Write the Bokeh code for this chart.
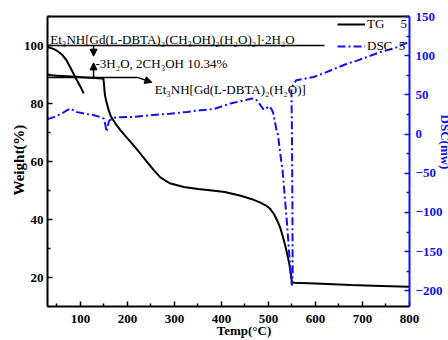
import math
from bokeh.plotting import figure
from bokeh.models import (Range1d, LinearAxis, FixedTicker, Label, Arrow, NormalHead,
                          Legend, LegendItem, Title)
from bokeh.embed import file_html
from bokeh.resources import INLINE

# ---------------- data ----------------
tg_temp = [30, 50, 70, 90, 110, 130, 145, 149, 150.5, 152, 155, 160, 165, 175, 185, 200, 215,
           228, 242, 256, 270, 290, 320, 350, 380, 407, 441, 465, 483, 495, 504, 512, 519, 525,
           529, 535, 540, 544, 547, 549, 550, 555, 600, 675, 740, 800]
tg_wt = [89.8, 89.6, 89.4, 89.2, 89.0, 88.8, 88.6, 88.5, 86.0, 83.0, 80.8, 77.8, 75.5, 73.0,
         70.8, 68.0, 65.2, 62.6, 59.8, 57.0, 54.5, 52.5, 51.2, 50.5, 50.0, 49.5, 48.2, 47.0,
         45.8, 44.8, 43.6, 41.8, 39.5, 37.2, 35.0, 31.5, 28.0, 25.0, 22.0, 19.5, 18.4, 18.2,
         17.9, 17.4, 17.1, 16.8]

aux_temp = [30, 40, 50, 60, 70, 80, 90, 100, 107]
aux_wt = [99.4, 99.0, 98.2, 97.0, 95.0, 92.0, 88.8, 85.8, 83.5]

dsc_temp = [30, 45, 60, 72, 79, 86, 93, 110, 129, 146, 150, 153, 155.5, 158, 161, 168, 175,
            213, 249, 290, 327, 355, 384, 419, 445, 465, 472, 477, 484, 490, 495, 501, 505,
            508, 510, 514, 517, 520, 526, 530, 535, 540, 545, 548, 550, 551.5, 551, 550, 549,
            548.5, 552, 559, 596, 619, 667, 690, 738, 770, 800]
dsc_val = [19, 22, 26, 30.5, 32.5, 30, 28, 26, 24, 21, 19.5, 12, 3, 10, 17, 20, 21.2, 22, 24,
           26, 28.3, 30.4, 32, 39, 42.5, 45.3, 45, 42, 36, 31, 32.5, 35.5, 33, 30, 27, 15, 5,
           0, -29, -46, -82, -118, -160, -185, -193, -180, -100, 0, 50, 58, 62, 68.6, 72.8,
           78, 89.8, 94, 104.6, 110, 118]

x_ticks = [100, 200, 300, 400, 500, 600, 700, 800]
x_minor = [50, 150, 250, 350, 450, 550, 650, 750]
wt_ticks = [20, 40, 60, 80, 100]
wt_minor = [10, 30, 50, 70, 90, 110]
dsc_ticks = [-200, -150, -100, -50, 0, 50, 100, 150]
dsc_minor = [-225, -175, -125, -75, -25, 25, 75, 125]

formula_full = "Et\u2083NH[Gd(L-DBTA)\u2082(CH\u2083OH)\u2082(H\u2082O)\u2082]\u00b72H\u2082O"
formula_loss = "-3H\u2082O, 2CH\u2083OH 10.34%"
formula_rest = "Et\u2083NH[Gd(L-DBTA)\u2082(H\u2082O)]"

NB = "\u00a0"
BLUE = "#1010f0"
SERIF = "Liberation Serif"

p = figure(width=448, height=340, output_backend="svg", toolbar_location=None,
           x_range=Range1d(30, 800), y_range=Range1d(10, 110),
           min_border_left=47, min_border_right=39, min_border_top=16, min_border_bottom=33)
p.grid.visible = False
p.outline_line_color = None
p.background_fill_color = "white"
p.extra_y_ranges = {"dsc": Range1d(-220, 150)}

def style_axis(ax, color, standoff):
    ax.axis_line_width = 2
    ax.axis_line_color = color
    ax.major_tick_line_color = color
    ax.minor_tick_line_color = color
    ax.major_tick_line_width = 1.5
    ax.minor_tick_line_width = 1.5
    ax.major_tick_in = 5
    ax.major_tick_out = 0
    ax.minor_tick_in = 3
    ax.minor_tick_out = 0
    ax.major_label_text_font = SERIF
    ax.major_label_text_font_style = "bold"
    ax.major_label_text_font_size = "13px"
    ax.major_label_text_color = color
    ax.major_label_standoff = standoff

xa = p.xaxis[0]
xa.ticker = FixedTicker(ticks=x_ticks, minor_ticks=x_minor)
style_axis(xa, "black", 8)
ya = p.yaxis[0]
ya.ticker = FixedTicker(ticks=wt_ticks, minor_ticks=wt_minor)
style_axis(ya, "black", 4)

ra = LinearAxis(y_range_name="dsc", ticker=FixedTicker(ticks=dsc_ticks, minor_ticks=dsc_minor))
style_axis(ra, BLUE, 6)
p.add_layout(ra, "right")

ta = LinearAxis(ticker=FixedTicker(ticks=[]), major_label_text_font_size="0px",
                major_tick_in=0, major_tick_out=0, minor_tick_in=0, minor_tick_out=0,
                axis_line_width=2, major_label_standoff=0)
p.add_layout(ta, "above")

# annotation lines
p.segment(x0=[30], y0=[100], x1=[619], y1=[100], line_color="black", line_width=1.5)
p.segment(x0=[30], y0=[89], x1=[221], y1=[89], line_color="black", line_width=1.5)

# curves
aux = p.line(aux_temp, aux_wt, line_color="black", line_width=2)
tg = p.line(tg_temp, tg_wt, line_color="black", line_width=2)
dsc = p.line(dsc_temp, dsc_val, y_range_name="dsc", line_color=BLUE, line_width=2,
             line_dash="8 3 2 3")

# arrows
for xs, ys, xe, ye in [(128, 100, 128, 96.3), (128, 89, 128, 94.0), (221, 89, 252, 87.3)]:
    p.add_layout(Arrow(end=NormalHead(size=7, fill_color="black", line_color="black"),
                       x_start=xs, y_start=ys, x_end=xe, y_end=ye,
                       line_color="black", line_width=1.5))

# texts
for tx, ty, txt in [(36, 102.1, formula_full), (132, 93.7, formula_loss), (258, 84.9, formula_rest)]:
    p.add_layout(Label(x=tx, y=ty, text=txt, text_font=SERIF, text_font_size="13px",
                       text_baseline="alphabetic", text_align="left", text_color="black"))

# axis titles, placed in the side panels so that they are not clipped to the frame
p.add_layout(Label(x=-30.6, y=60.5, text="Weight(%)", angle=math.pi / 2, text_font=SERIF,
                   text_font_style="bold", text_font_size="15px", text_align="center",
                   text_baseline="middle", text_color="black"), "left")
p.add_layout(Label(x=448, y=1.75, text="Temp(\u00b0C)", text_font=SERIF,
                   text_font_style="bold", text_font_size="13px", text_align="center",
                   text_baseline="middle", text_color="black"), "below")
p.add_layout(Title(text="DSC(mw)" + NB * 12, align="center", vertical_align="middle",
                   standoff=-17, text_font=SERIF, text_font_style="bold",
                   text_font_size="13px", text_color=BLUE), "right")

legend = Legend(items=[LegendItem(label="TG" + NB * 5 + "5", renderers=[tg]),
                       LegendItem(label="DSC" + NB * 2 + "5", renderers=[dsc])],
                location=(290, 250), border_line_color=None, background_fill_alpha=0,
                padding=0, margin=0, spacing=2, glyph_width=28, glyph_height=20,
                label_height=20, label_standoff=2, label_text_font=SERIF,
                label_text_font_size="13px", label_text_color="black")
p.add_layout(legend)

open("out.html", "w").write(file_html(p, INLINE))
